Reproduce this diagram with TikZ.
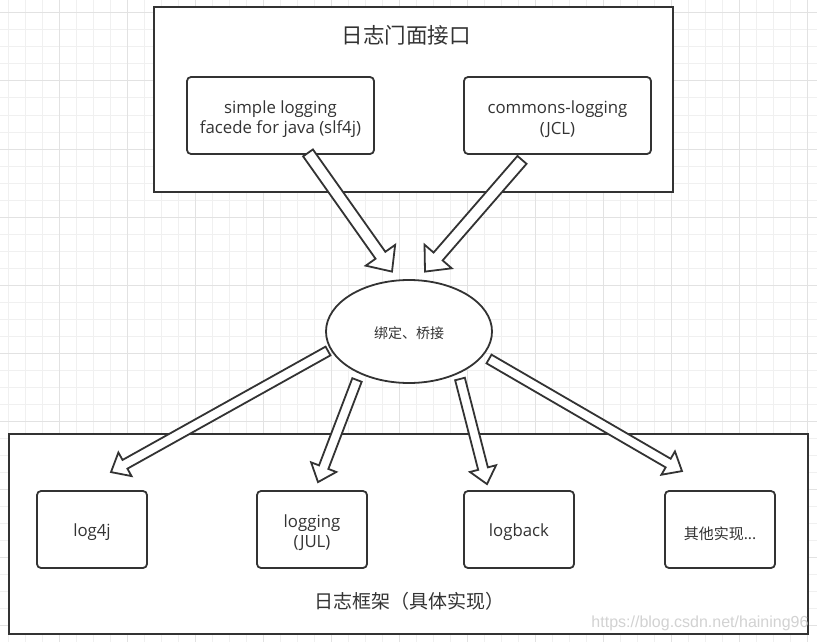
\documentclass[tikz,border=0pt]{standalone}
\usepackage{fontspec}
\setmainfont{Open Sans}
\newfontfamily\cjk{Noto Sans CJK SC}
\newfontfamily\wmfont{Liberation Sans}
\usetikzlibrary{shapes.geometric,calc}
\definecolor{ink}{HTML}{333333}
\definecolor{gridminor}{HTML}{F0F0F0}
\definecolor{gridmajor}{HTML}{E2E2E2}
\definecolor{wmgray}{HTML}{D2D2D2}
\tikzset{
  outerbox/.style={draw=ink,line width=2pt,fill=white,inner sep=0pt},
  innerbox/.style={draw=ink,line width=1.8pt,fill=white,rounded corners=4pt,inner sep=0pt},
  boxtext/.style={text=ink,align=center,inner sep=0pt,yshift=-3pt,
    font=\fontsize{16.8}{20.5}\selectfont},
  cjkboxtext/.style={boxtext,yshift=-1pt,font=\cjk\fontsize{15}{18}\selectfont},
  topbox/.style={innerbox,minimum width=187pt,minimum height=77pt},
  botbox/.style={innerbox,minimum width=110pt,minimum height=77pt},
  titletext/.style={text=ink,inner sep=0pt},
  barrow/.style={draw=ink,line width=1.8pt,fill=white,line join=miter},
  gminor/.style={draw=gridminor,line width=1pt},
  gmajor/.style={draw=gridmajor,line width=1pt},
}
\newcommand\blockarrow[5]{%
  \coordinate (bah) at ($(#2)!#5!(#1)$);
  \draw[barrow] ($(#1)!#3!90:(#2)$) -- ($(bah)!#3!-90:(#1)$) -- ($(bah)!#4!-90:(#1)$)
    -- (#2) -- ($(bah)!#4!90:(#1)$) -- ($(bah)!#3!90:(#1)$) -- ($(#1)!#3!-90:(#2)$) -- cycle;
}
\begin{document}
\begin{tikzpicture}[x=1pt,y=-1pt]
\useasboundingbox[fill=white] (0,0) rectangle (817,642);
% grid
\foreach \i in {0,...,47} { \draw[gminor] ({8+17*\i},0) -- ({8+17*\i},642); }
\foreach \i in {0,...,37} { \draw[gminor] (0,{13+17*\i}) -- (817,{13+17*\i}); }
\foreach \i in {0,...,11} { \draw[gmajor] ({59+68*\i},0) -- ({59+68*\i},642); }
\foreach \i in {0,...,9} { \draw[gmajor] (0,{13+68*\i}) -- (817,{13+68*\i}); }
% outer boxes
\node[outerbox,minimum width=519pt,minimum height=185pt] (facade) at (413.5,99.5) {};
\node[outerbox,minimum width=799pt,minimum height=200pt] (impl) at (408.5,534) {};
\node[titletext,font=\cjk\fontsize{21.5}{25}\selectfont] (facadetitle) at (406,35) {日志门面接口};
\node[titletext,font=\cjk\fontsize{19}{23}\selectfont] (impltitle) at (409,601) {日志框架（具体实现）};
% inner boxes
\node[topbox,label={[boxtext,yshift=-0.5pt]center:{simple logging\\facede for java (slf4j)}}] (slf) at (280.5,115.5) {};
\node[topbox,label={[boxtext,yshift=-0.5pt]center:{commons-logging\\(JCL)}}] (jcl) at (557.5,115.5) {};
\node[botbox,label={[boxtext]center:{log4j}}] (log4j) at (92,529.5) {};
\node[botbox,label={[boxtext]center:{logging\\(JUL)}}] (jul) at (312,529.5) {};
\node[botbox,label={[boxtext]center:{logback}}] (logback) at (519,529.5) {};
\node[botbox,label={[cjkboxtext]center:{其他实现...}}] (other) at (720,529.5) {};
% bridge ellipse
\node[ellipse,draw=ink,line width=1.8pt,fill=white,minimum width=166pt,minimum height=103pt,
  inner sep=0pt,label={[titletext,yshift=-2pt,font=\cjk\fontsize{14}{16}\selectfont]center:{绑定、桥接}}] (bridge) at (409,331.5) {};
% arrow end points
\coordinate (t1s) at ($(slf.south)+(27.5,-2)$);
\coordinate (t1e) at ($(bridge.north)+(-17,-7.5)$);
\coordinate (t2s) at ($(jcl.south)+(-35.5,5)$);
\coordinate (t2e) at ($(bridge.north)+(16,-7.5)$);
\coordinate (b1s) at ($(bridge.center)+(-81,19.5)$);
\coordinate (b1e) at ($(log4j.north)+(19,-18)$);
\coordinate (b2s) at ($(bridge.center)+(-52,48.5)$);
\coordinate (b2e) at ($(jul.north)+(6,-8)$);
\coordinate (b3s) at ($(bridge.center)+(51,47.5)$);
\coordinate (b3e) at ($(logback.north)+(-32,-6)$);
\coordinate (b4s) at ($(bridge.center)+(80,27.5)$);
\coordinate (b4e) at ($(other.north)+(-38,-19)$);
% block arrows
\blockarrow{t1s}{t1e}{6pt}{18pt}{20pt}
\blockarrow{t2s}{t2e}{6pt}{18pt}{20pt}
\blockarrow{b1s}{b1e}{5pt}{13.5pt}{16pt}
\blockarrow{b2s}{b2e}{5pt}{13.5pt}{16pt}
\blockarrow{b3s}{b3e}{5pt}{13.5pt}{16pt}
\blockarrow{b4s}{b4e}{5pt}{13.5pt}{16pt}
% watermark
\node[inner sep=0pt,anchor=base,text=wmgray,font=\wmfont\fontsize{16}{18}\selectfont] (wm) at (700,627) {https://blog.csdn.net/haining96};
\end{tikzpicture}
\end{document}
